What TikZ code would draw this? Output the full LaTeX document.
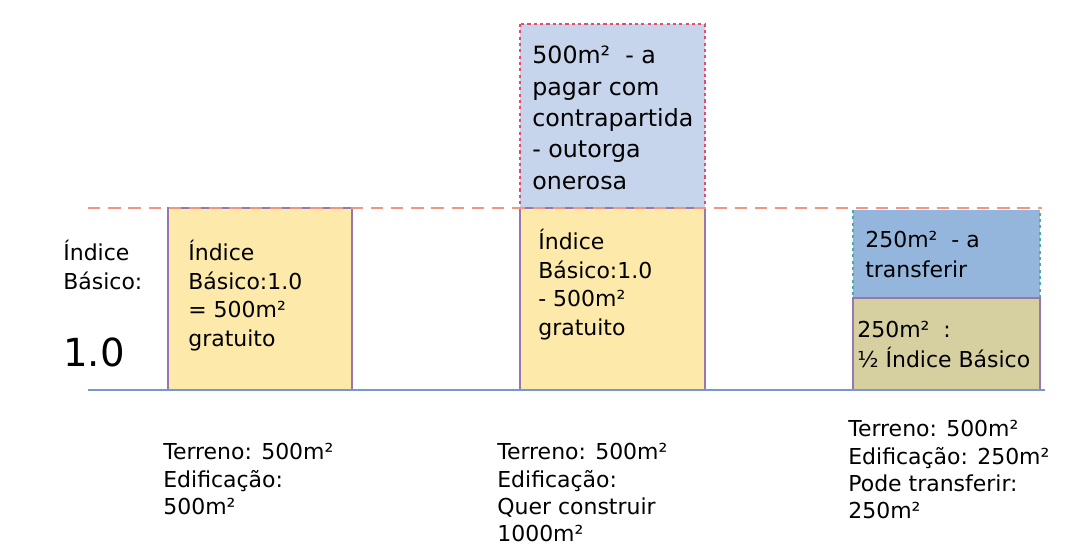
\documentclass[tikz,border=0pt]{standalone}
\usepackage{fontspec}
\setmainfont{DejaVu Sans}
\usetikzlibrary{positioning}

\definecolor{paleyellow}{RGB}{253,233,170}
\definecolor{lilac}{RGB}{150,120,175}
\definecolor{paleblue}{RGB}{198,212,236}
\definecolor{midblue}{RGB}{149,182,220}
\definecolor{khaki}{RGB}{214,207,160}
\definecolor{dotred}{RGB}{232,75,105}
\definecolor{dotteal}{RGB}{70,175,170}
\definecolor{limitline}{RGB}{240,150,130}
\definecolor{groundline}{RGB}{120,150,210}

\begin{document}
\begin{tikzpicture}[x=0.02cm, y=-0.02cm,
    lot/.style={draw=lilac, line width=0.7pt},
    dots/.style={line width=1.3pt, dash pattern=on 1.8pt off 1.8pt},
    txt/.style={anchor=north west, inner sep=0pt, align=left, font=\fontsize{12.5pt}{16.3pt}\selectfont},
    note/.style={txt, font=\fontsize{12.5pt}{15.6pt}\selectfont}]
    \useasboundingbox (0,0) rectangle (1065,560);

    % Define the corners of the three lots
    \coordinate (A1) at (168,208);
    \coordinate (B1) at (352,390);
    \coordinate (A2) at (520,208);
    \coordinate (B2) at (705,390);
    \coordinate (T2) at (520,24);
    \coordinate (A3) at (853,298);
    \coordinate (B3) at (1040,390);
    \coordinate (T3) at (853,210);
    \coordinate (C3) at (1040,298);

    % Ends of the two long lines
    \coordinate (L0) at (88,208);
    \coordinate (L1) at (1042,208);
    \coordinate (G0) at (88,390);
    \coordinate (G1) at (1045,390);

    % Fill the blocks
    \fill[paleblue] (T2) rectangle (B2 |- A2);
    \fill[midblue] (T3) rectangle (C3);
    \fill[paleyellow] (A1) rectangle (B1);
    \fill[paleyellow] (A2) rectangle (B2);
    \fill[khaki] (A3) rectangle (B3);

    % Borders
    \draw[dotred, dots] (T2) rectangle (B2 |- A2);
    \draw[dotteal, dots] (T3) -- (A3) (C3) -- (C3 |- T3);
    \draw[lot] (A1) rectangle (B1);
    \draw[lot] (A2) rectangle (B2);
    \draw[lot] (A3) rectangle (B3);

    % Limit of the basic index and ground line
    \draw[limitline, line width=0.9pt, dash pattern=on 7pt off 4.5pt] (L0) -- (L1);
    \draw[groundline, line width=0.8pt] (G0) -- (G1);

    % Labels on the left
    \node (basic) at (63,240) [txt] {Índice\\Básico:};
    \node (value) at (63,367) [anchor=base west, inner sep=0pt, font=\fontsize{22pt}{26pt}\selectfont] {1.0};

    % Text in the blocks
    \node (free1) at (188,240) [txt] {Índice\\Básico:1.0\\= 500m²\\gratuito};
    \node (paid) at (532,46) [txt, font=\fontsize{13.5pt}{17.8pt}\selectfont] {500m²\ \ - a\\pagar com\\contrapartida\\- outorga\\onerosa};
    \node (free2) at (538,229) [txt] {Índice\\Básico:1.0\\- 500m²\\gratuito};
    \node (transfer) at (865,231) [txt, font=\fontsize{12.5pt}{17pt}\selectfont] {250m²\ \ - a\\transferir};
    \node (half) at (857,321) [txt, font=\fontsize{12.5pt}{17pt}\selectfont] {250m²\ \ :\\½ Índice Básico};

    % Notes under the lots
    \node (lot1) at (163,443) [note] {Terreno: 500m²\\Edificação:\\500m²};
    \node (lot2) at (497,443) [note] {Terreno: 500m²\\Edificação:\\Quer construir\\1000m²};
    \node (lot3) at (848,420) [note] {Terreno: 500m²\\Edificação: 250m²\\Pode transferir:\\250m²};
\end{tikzpicture}
\end{document}
